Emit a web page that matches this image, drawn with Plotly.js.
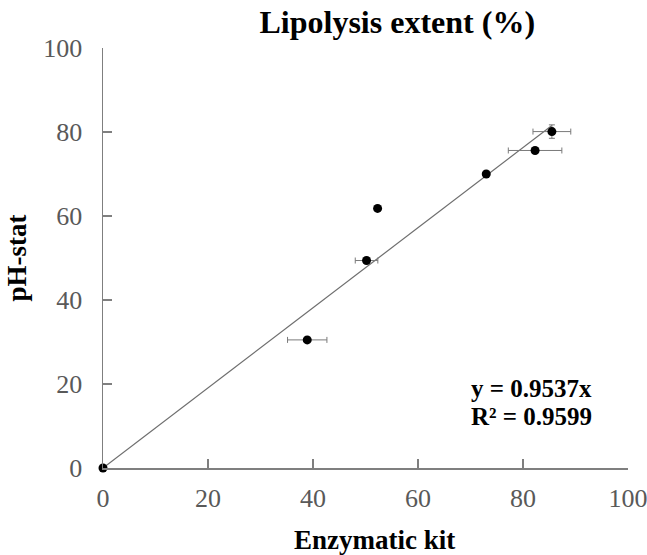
<!DOCTYPE html>
<html>
<head>
<meta charset="utf-8">
<script src="https://cdn.plot.ly/plotly-3.0.1.min.js"></script>
<style>html,body{margin:0;padding:0;background:#fff;}#chart{width:647px;height:555px;}</style>
</head>
<body>
<div id="chart"></div>
<script>
// Data
var enzymaticKit = [0, 38.9, 50.2, 52.3, 73.0, 82.3, 85.5];
var enzymaticErr = [0, 3.75, 2.15, 0.4, 0, 5.1, 3.6];
var phStat = [0, 30.5, 49.4, 61.8, 70.0, 75.6, 80.1];
var phStatErr = [0, 0, 0, 0.3, 0, 0, 1.6];
var slope = 0.9537;
var trendX = [0, 85.5];
var trendY = trendX.map(function (v) { return slope * v; });
var xTicks = [0, 20, 40, 60, 80, 100];
var yTicks = [0, 20, 40, 60, 80, 100];

var serif = 'Liberation Serif, Times New Roman, serif';

var traces = [
  {
    x: trendX, y: trendY, mode: 'lines', type: 'scatter',
    line: {color: '#6e6e6e', width: 1.2}, hoverinfo: 'skip', showlegend: false
  },
  {
    x: enzymaticKit, y: phStat, mode: 'markers', type: 'scatter',
    marker: {color: '#000000', size: 9},
    error_x: {type: 'data', array: enzymaticErr, visible: true, color: '#7a7a7a', thickness: 1, width: 3},
    error_y: {type: 'data', array: phStatErr, visible: true, color: '#7a7a7a', thickness: 1, width: 3},
    cliponaxis: false, showlegend: false
  }
];

var layout = {
  width: 647, height: 555,
  margin: {l: 103, r: 19, t: 48, b: 87},
  paper_bgcolor: '#ffffff', plot_bgcolor: '#ffffff',
  showlegend: false,
  title: {
    text: '<b>Lipolysis extent (%)</b>',
    font: {family: serif, size: 32, color: '#000000'},
    x: 0.614, xanchor: 'center', y: 0.96, yanchor: 'middle', xref: 'container', yref: 'container'
  },
  xaxis: {
    range: [0, 100], tickvals: xTicks, ticktext: xTicks.map(String),
    showline: true, linecolor: '#7f7f7f', linewidth: 1.5,
    ticks: 'inside', ticklen: 9, tickcolor: '#7f7f7f', tickwidth: 1.5,
    showgrid: false, zeroline: false,
    tickfont: {family: serif, size: 26, color: '#595959'},
    ticklabelstandoff: 6, ticklabeloverflow: 'allow'
  },
  yaxis: {
    range: [0, 100], tickvals: yTicks, ticktext: yTicks.map(String),
    showline: true, linecolor: '#7f7f7f', linewidth: 1.5,
    ticks: 'inside', ticklen: 9, tickcolor: '#7f7f7f', tickwidth: 1.5,
    showgrid: false, zeroline: false,
    tickfont: {family: serif, size: 26, color: '#595959'},
    ticklabelstandoff: 14, ticklabeloverflow: 'allow',
    title: {text: '<b>pH-stat</b>', font: {family: serif, size: 27, color: '#000000'}, standoff: 9}
  },
  annotations: [
    {
      x: 0.518, y: -0.172, xref: 'paper', yref: 'paper', xanchor: 'center', yanchor: 'middle',
      showarrow: false, text: '<b>Enzymatic kit</b>',
      font: {family: serif, size: 27, color: '#000000'}
    },
    {
      x: 69.9, y: 19.0, xref: 'x', yref: 'y', xanchor: 'left', yanchor: 'middle', align: 'left',
      showarrow: false, text: '<b>y = 0.9537x</b>', borderpad: 0,
      font: {family: serif, size: 25, color: '#000000'}
    },
    {
      x: 69.9, y: 12.3, xref: 'x', yref: 'y', xanchor: 'left', yanchor: 'middle', align: 'left',
      showarrow: false, text: '<b>R² = 0.9599</b>', borderpad: 0,
      font: {family: serif, size: 25, color: '#000000'}
    }
  ]
};

Plotly.newPlot('chart', traces, layout, {displayModeBar: false, staticPlot: true});
</script>
</body>
</html>
